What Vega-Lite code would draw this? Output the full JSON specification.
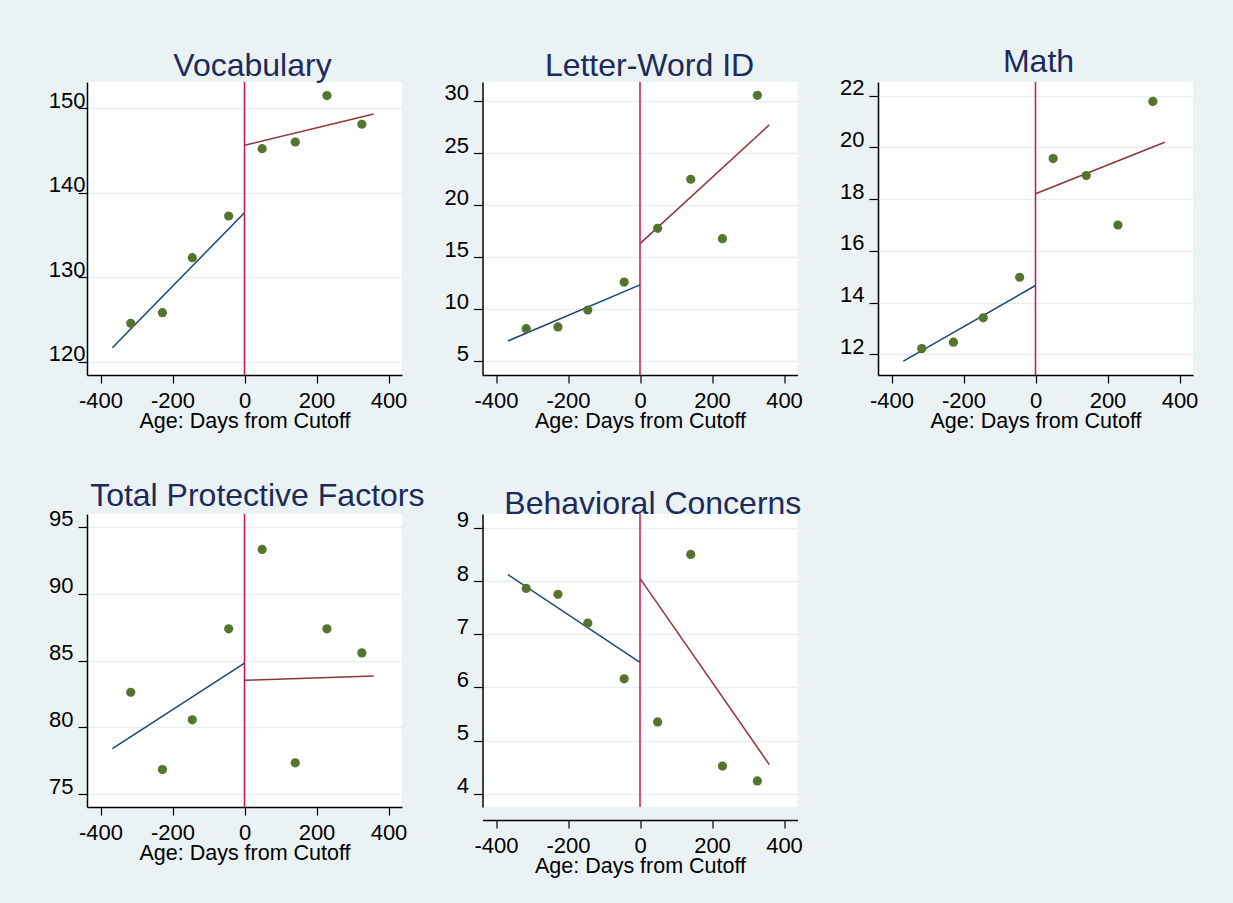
{
  "$schema": "https://vega.github.io/schema/vega-lite/v6.json",
  "autosize": {"type": "pad"},
  "padding": {"left": 48, "top": 45, "right": 36, "bottom": 30},
  "datasets": {
    "bins": [
      {"measure": "Vocabulary", "days": -316, "score": 124.55},
      {"measure": "Vocabulary", "days": -228, "score": 125.81},
      {"measure": "Vocabulary", "days": -145, "score": 132.32},
      {"measure": "Vocabulary", "days": -44, "score": 137.25},
      {"measure": "Vocabulary", "days": 49, "score": 145.22},
      {"measure": "Vocabulary", "days": 141, "score": 146.01},
      {"measure": "Vocabulary", "days": 229, "score": 151.5},
      {"measure": "Vocabulary", "days": 326, "score": 148.11},
      {"measure": "Letter-Word ID", "days": -316, "score": 8.13},
      {"measure": "Letter-Word ID", "days": -228, "score": 8.3},
      {"measure": "Letter-Word ID", "days": -145, "score": 9.92},
      {"measure": "Letter-Word ID", "days": -44, "score": 12.61},
      {"measure": "Letter-Word ID", "days": 49, "score": 17.77},
      {"measure": "Letter-Word ID", "days": 141, "score": 22.48},
      {"measure": "Letter-Word ID", "days": 229, "score": 16.77},
      {"measure": "Letter-Word ID", "days": 326, "score": 30.54},
      {"measure": "Math", "days": -316, "score": 12.22},
      {"measure": "Math", "days": -228, "score": 12.47},
      {"measure": "Math", "days": -145, "score": 13.41},
      {"measure": "Math", "days": -44, "score": 14.98},
      {"measure": "Math", "days": 49, "score": 19.57},
      {"measure": "Math", "days": 141, "score": 18.91},
      {"measure": "Math", "days": 229, "score": 17.0},
      {"measure": "Math", "days": 326, "score": 21.78},
      {"measure": "Total Protective Factors", "days": -316, "score": 82.62},
      {"measure": "Total Protective Factors", "days": -228, "score": 76.85},
      {"measure": "Total Protective Factors", "days": -145, "score": 80.57},
      {"measure": "Total Protective Factors", "days": -44, "score": 87.37},
      {"measure": "Total Protective Factors", "days": 49, "score": 93.3},
      {"measure": "Total Protective Factors", "days": 141, "score": 77.35},
      {"measure": "Total Protective Factors", "days": 229, "score": 87.37},
      {"measure": "Total Protective Factors", "days": 326, "score": 85.57},
      {"measure": "Behavioral Concerns", "days": -316, "score": 7.86},
      {"measure": "Behavioral Concerns", "days": -228, "score": 7.75},
      {"measure": "Behavioral Concerns", "days": -145, "score": 7.21},
      {"measure": "Behavioral Concerns", "days": -44, "score": 6.16},
      {"measure": "Behavioral Concerns", "days": 49, "score": 5.35},
      {"measure": "Behavioral Concerns", "days": 141, "score": 8.5},
      {"measure": "Behavioral Concerns", "days": 229, "score": 4.52},
      {"measure": "Behavioral Concerns", "days": 326, "score": 4.24}
    ],
    "fits": [
      {"measure": "Vocabulary", "side": "below", "days": -367, "score": 121.66},
      {"measure": "Vocabulary", "side": "below", "days": 0, "score": 137.64},
      {"measure": "Vocabulary", "side": "above", "days": 0, "score": 145.62},
      {"measure": "Vocabulary", "side": "above", "days": 359, "score": 149.33},
      {"measure": "Letter-Word ID", "side": "below", "days": -367, "score": 6.95},
      {"measure": "Letter-Word ID", "side": "below", "days": 0, "score": 12.33},
      {"measure": "Letter-Word ID", "side": "above", "days": 0, "score": 16.3},
      {"measure": "Letter-Word ID", "side": "above", "days": 359, "score": 27.7},
      {"measure": "Math", "side": "below", "days": -367, "score": 11.74},
      {"measure": "Math", "side": "below", "days": 0, "score": 14.66},
      {"measure": "Math", "side": "above", "days": 0, "score": 18.21},
      {"measure": "Math", "side": "above", "days": 359, "score": 20.2},
      {"measure": "Total Protective Factors", "side": "below", "days": -367, "score": 78.42},
      {"measure": "Total Protective Factors", "side": "below", "days": 0, "score": 84.8},
      {"measure": "Total Protective Factors", "side": "above", "days": 0, "score": 83.52},
      {"measure": "Total Protective Factors", "side": "above", "days": 359, "score": 83.85},
      {"measure": "Behavioral Concerns", "side": "below", "days": -367, "score": 8.12},
      {"measure": "Behavioral Concerns", "side": "below", "days": 0, "score": 6.47},
      {"measure": "Behavioral Concerns", "side": "above", "days": 0, "score": 8.05},
      {"measure": "Behavioral Concerns", "side": "above", "days": 359, "score": 4.55}
    ],
    "cutoff": [{"cutoff": 0}]
  },
  "columns": 3,
  "bounds": "flush",
  "spacing": {"row": 139, "column": 80.5},
  "concat": [
    {
      "width": 315, "height": 293,
      "title": {"text": "Vocabulary", "dx": 8, "offset": -2},
      "encoding": {
        "x": {"field": "days", "type": "quantitative", "scale": {"domain": [-437.5, 437.5], "nice": false, "zero": false}, "axis": {"values": [-400, -200, 0, 200, 400], "title": "Age: Days from Cutoff", "labelExpr": "'' + datum.value"}},
        "y": {"field": "score", "type": "quantitative", "scale": {"domain": [118.43, 153.11], "nice": false, "zero": false}, "axis": {"values": [120, 130, 140, 150], "title": null, "labelPadding": -7}}
      },
      "layer": [
        {"data": {"name": "cutoff"}, "mark": {"type": "rule", "color": "#CE124B", "strokeWidth": 1.5}, "encoding": {"x": {"field": "cutoff", "type": "quantitative"}, "y": null}},
        {"data": {"name": "fits"}, "transform": [{"filter": "datum.measure === 'Vocabulary'"}], "mark": {"type": "line", "strokeWidth": 1.5}, "encoding": {"color": {"field": "side", "type": "nominal", "scale": {"domain": ["below", "above"], "range": ["#1A476F", "#90353B"]}, "legend": null}}},
        {"data": {"name": "bins"}, "transform": [{"filter": "datum.measure === 'Vocabulary'"}], "mark": {"type": "circle", "size": 85, "color": "#55752F", "opacity": 1}}
      ]
    },
    {
      "width": 315, "height": 293,
      "title": {"text": "Letter-Word ID", "dx": 9.5, "offset": -2},
      "encoding": {
        "x": {"field": "days", "type": "quantitative", "scale": {"domain": [-437.5, 437.5], "nice": false, "zero": false}, "axis": {"values": [-400, -200, 0, 200, 400], "title": "Age: Days from Cutoff", "labelExpr": "'' + datum.value"}},
        "y": {"field": "score", "type": "quantitative", "scale": {"domain": [3.68, 31.82], "nice": false, "zero": false}, "axis": {"values": [5, 10, 15, 20, 25, 30], "title": null}}
      },
      "layer": [
        {"data": {"name": "cutoff"}, "mark": {"type": "rule", "color": "#CE124B", "strokeWidth": 1.5}, "encoding": {"x": {"field": "cutoff", "type": "quantitative"}, "y": null}},
        {"data": {"name": "fits"}, "transform": [{"filter": "datum.measure === 'Letter-Word ID'"}], "mark": {"type": "line", "strokeWidth": 1.5}, "encoding": {"color": {"field": "side", "type": "nominal", "scale": {"domain": ["below", "above"], "range": ["#1A476F", "#90353B"]}, "legend": null}}},
        {"data": {"name": "bins"}, "transform": [{"filter": "datum.measure === 'Letter-Word ID'"}], "mark": {"type": "circle", "size": 85, "color": "#55752F", "opacity": 1}}
      ]
    },
    {
      "width": 315, "height": 293,
      "title": {"text": "Math", "dx": 3, "offset": -2},
      "encoding": {
        "x": {"field": "days", "type": "quantitative", "scale": {"domain": [-437.5, 437.5], "nice": false, "zero": false}, "axis": {"values": [-400, -200, 0, 200, 400], "title": "Age: Days from Cutoff", "labelExpr": "'' + datum.value"}},
        "y": {"field": "score", "type": "quantitative", "scale": {"domain": [11.2, 22.53], "nice": false, "zero": false}, "axis": {"values": [12, 14, 16, 18, 20, 22], "title": null}}
      },
      "layer": [
        {"data": {"name": "cutoff"}, "mark": {"type": "rule", "color": "#CE124B", "strokeWidth": 1.5}, "encoding": {"x": {"field": "cutoff", "type": "quantitative"}, "y": null}},
        {"data": {"name": "fits"}, "transform": [{"filter": "datum.measure === 'Math'"}], "mark": {"type": "line", "strokeWidth": 1.5}, "encoding": {"color": {"field": "side", "type": "nominal", "scale": {"domain": ["below", "above"], "range": ["#1A476F", "#90353B"]}, "legend": null}}},
        {"data": {"name": "bins"}, "transform": [{"filter": "datum.measure === 'Math'"}], "mark": {"type": "circle", "size": 85, "color": "#55752F", "opacity": 1}}
      ]
    },
    {
      "width": 315, "height": 293,
      "title": {"text": "Total Protective Factors", "dx": 12.8, "offset": -5},
      "encoding": {
        "x": {"field": "days", "type": "quantitative", "scale": {"domain": [-437.5, 437.5], "nice": false, "zero": false}, "axis": {"values": [-400, -200, 0, 200, 400], "title": "Age: Days from Cutoff", "labelExpr": "'' + datum.value"}},
        "y": {"field": "score", "type": "quantitative", "scale": {"domain": [74.05, 95.95], "nice": false, "zero": false}, "axis": {"values": [75, 80, 85, 90, 95], "title": null}}
      },
      "layer": [
        {"data": {"name": "cutoff"}, "mark": {"type": "rule", "color": "#CE124B", "strokeWidth": 1.5}, "encoding": {"x": {"field": "cutoff", "type": "quantitative"}, "y": null}},
        {"data": {"name": "fits"}, "transform": [{"filter": "datum.measure === 'Total Protective Factors'"}], "mark": {"type": "line", "strokeWidth": 1.5}, "encoding": {"color": {"field": "side", "type": "nominal", "scale": {"domain": ["below", "above"], "range": ["#1A476F", "#90353B"]}, "legend": null}}},
        {"data": {"name": "bins"}, "transform": [{"filter": "datum.measure === 'Total Protective Factors'"}], "mark": {"type": "circle", "size": 85, "color": "#55752F", "opacity": 1}}
      ]
    },
    {
      "width": 315, "height": 293,
      "title": {"text": "Behavioral Concerns", "dx": 12.8, "offset": -12},
      "encoding": {
        "x": {"field": "days", "type": "quantitative", "scale": {"domain": [-437.5, 437.5], "nice": false, "zero": false}, "axis": {"values": [-400, -200, 0, 200, 400], "title": "Age: Days from Cutoff", "labelExpr": "'' + datum.value", "offset": 13}},
        "y": {"field": "score", "type": "quantitative", "scale": {"domain": [3.75, 9.26], "nice": false, "zero": false}, "axis": {"values": [4, 5, 6, 7, 8, 9], "title": null}}
      },
      "layer": [
        {"data": {"name": "cutoff"}, "mark": {"type": "rule", "color": "#CE124B", "strokeWidth": 1.5}, "encoding": {"x": {"field": "cutoff", "type": "quantitative"}, "y": null}},
        {"data": {"name": "fits"}, "transform": [{"filter": "datum.measure === 'Behavioral Concerns'"}], "mark": {"type": "line", "strokeWidth": 1.5}, "encoding": {"color": {"field": "side", "type": "nominal", "scale": {"domain": ["below", "above"], "range": ["#1A476F", "#90353B"]}, "legend": null}}},
        {"data": {"name": "bins"}, "transform": [{"filter": "datum.measure === 'Behavioral Concerns'"}], "mark": {"type": "circle", "size": 85, "color": "#55752F", "opacity": 1}}
      ]
    }
  ],
  "config": {
    "background": "#EAF2F3",
    "view": {"fill": "white", "stroke": null},
    "font": "Liberation Sans",
    "axis": {
      "domainColor": "#000000", "domainWidth": 1.5,
      "tickColor": "#000000", "tickWidth": 1.2,
      "labelColor": "#000000", "labelFont": "Liberation Sans", "labelFontSize": 22,
      "titleFont": "Liberation Sans", "titleFontSize": 21.5, "titleFontWeight": "normal", "titleColor": "#000000",
      "labelOverlap": false, "labelFlush": false
    },
    "axisX": {"grid": false, "tickSize": 8, "labelPadding": 7, "titlePadding": -1},
    "axisY": {"grid": true, "gridColor": "#E6EFF1", "gridWidth": 1.5, "tickSize": 9, "labelPadding": 5, "labelBaseline": "alphabetic", "labelOffset": -1},
    "title": {"font": "Liberation Sans", "fontSize": 32, "fontWeight": "normal", "color": "#1C2B5A", "anchor": "middle", "frame": "group", "baseline": "alphabetic", "offset": 0}
  }
}
